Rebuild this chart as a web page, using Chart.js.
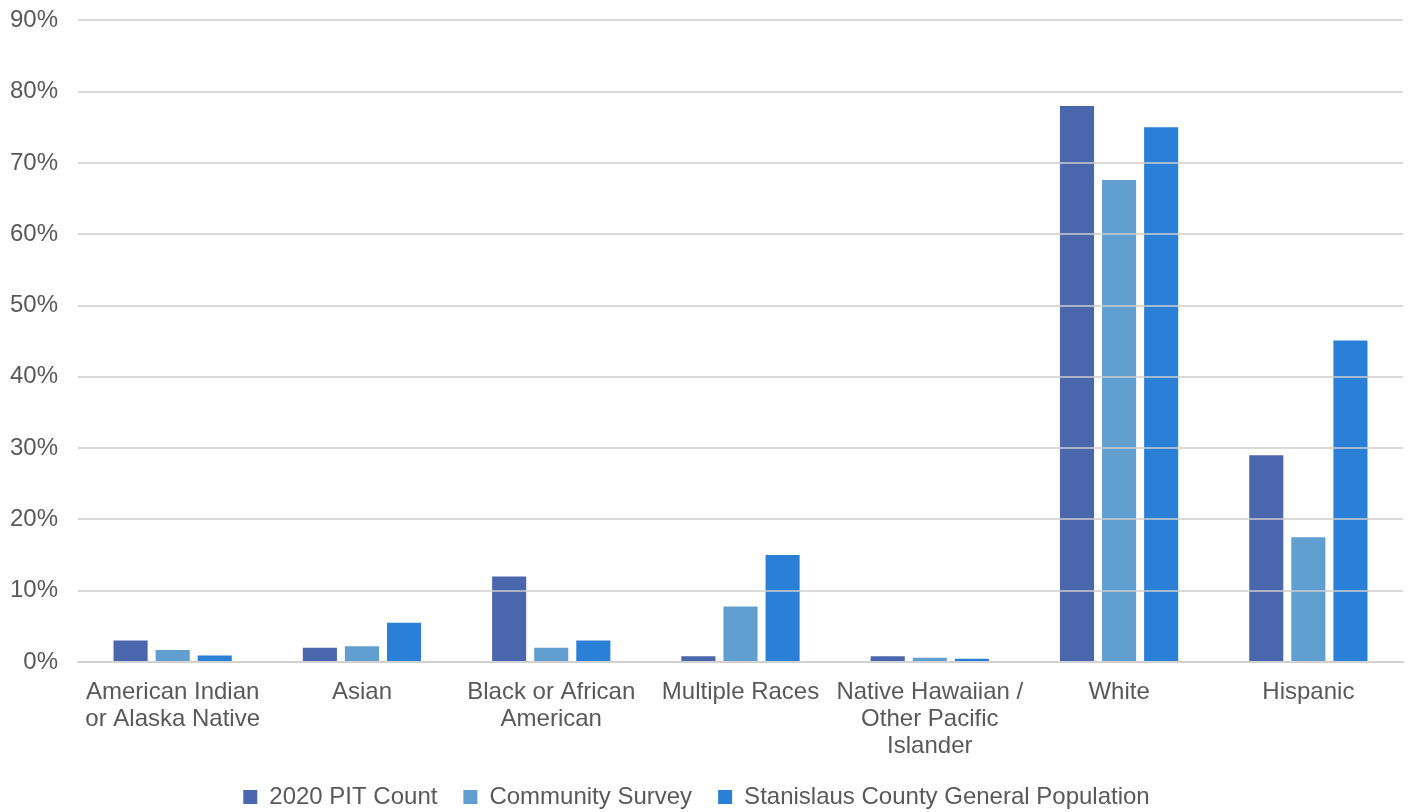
<!DOCTYPE html>
<html>
<head>
<meta charset="utf-8">
<script src="https://cdn.jsdelivr.net/npm/chart.js@4"></script>
<style>
  html, body { margin: 0; padding: 0; background: #fff; overflow: hidden; }
  #wrap { width: 1412px; height: 826px; margin-top: -14px; }
</style>
</head>
<body>
<div id="wrap"><canvas id="chart"></canvas></div>
<script>
const categories = [
    ['American Indian', 'or Alaska Native'],
    'Asian',
    ['Black or African', 'American'],
    'Multiple Races',
    ['Native Hawaiian /', 'Other Pacific', 'Islander'],
    'White',
    'Hispanic'
];
const pitCount = [3, 2, 12, 0.8, 0.8, 78, 29];
const communitySurvey = [1.7, 2.2, 2, 7.8, 0.6, 67.6, 17.5];
const generalPopulation = [0.9, 5.5, 3, 15, 0.45, 75, 45.1];
const seriesNames = ['2020 PIT Count', 'Community Survey', 'Stanislaus County General Population'];

const textColor = '#595959';
const gridColor = 'rgba(205, 205, 205, 0.75)';
const fontFamily = 'Liberation Sans, Arial, sans-serif';

new Chart(document.getElementById('chart'), {
    type: 'bar',
    data: {
        labels: categories,
        datasets: [
            { label: seriesNames[0], data: pitCount, backgroundColor: '#4a66ac' },
            { label: seriesNames[1], data: communitySurvey, backgroundColor: '#629fd1' },
            { label: seriesNames[2], data: generalPopulation, backgroundColor: '#2a7fd7' }
        ]
    },
    options: {
        responsive: true,
        maintainAspectRatio: false,
        animation: false,
        datasets: {
            bar: { categoryPercentage: 0.667, barPercentage: 0.81 }
        },
        layout: { autoPadding: false, padding: { top: 5, right: 9, left: -10, bottom: -7 } },
        plugins: {
            legend: {
                position: 'bottom',
                labels: {
                    color: textColor,
                    font: { family: fontFamily, size: 24 },
                    boxWidth: 14,
                    boxHeight: 14,
                    padding: 26
                }
            },
            tooltip: { enabled: false }
        },
        scales: {
            y: {
                min: 0,
                max: 90,
                ticks: {
                    stepSize: 10,
                    color: textColor,
                    font: { family: fontFamily, size: 24 },
                    padding: 20,
                    callback: v => v + '%'
                },
                grid: { color: gridColor, lineWidth: 2, drawTicks: false, z: 1 },
                border: { display: false }
            },
            x: {
                afterFit: scale => { scale.height = 97; },
                ticks: {
                    color: textColor,
                    font: { family: fontFamily, size: 24, lineHeight: 1.125 },
                    padding: 17,
                    maxRotation: 0,
                    autoSkip: false
                },
                grid: { display: false, drawTicks: false },
                border: { display: true, color: '#d9d9d9', width: 2 }
            }
        }
    }
});
</script>
</body>
</html>
